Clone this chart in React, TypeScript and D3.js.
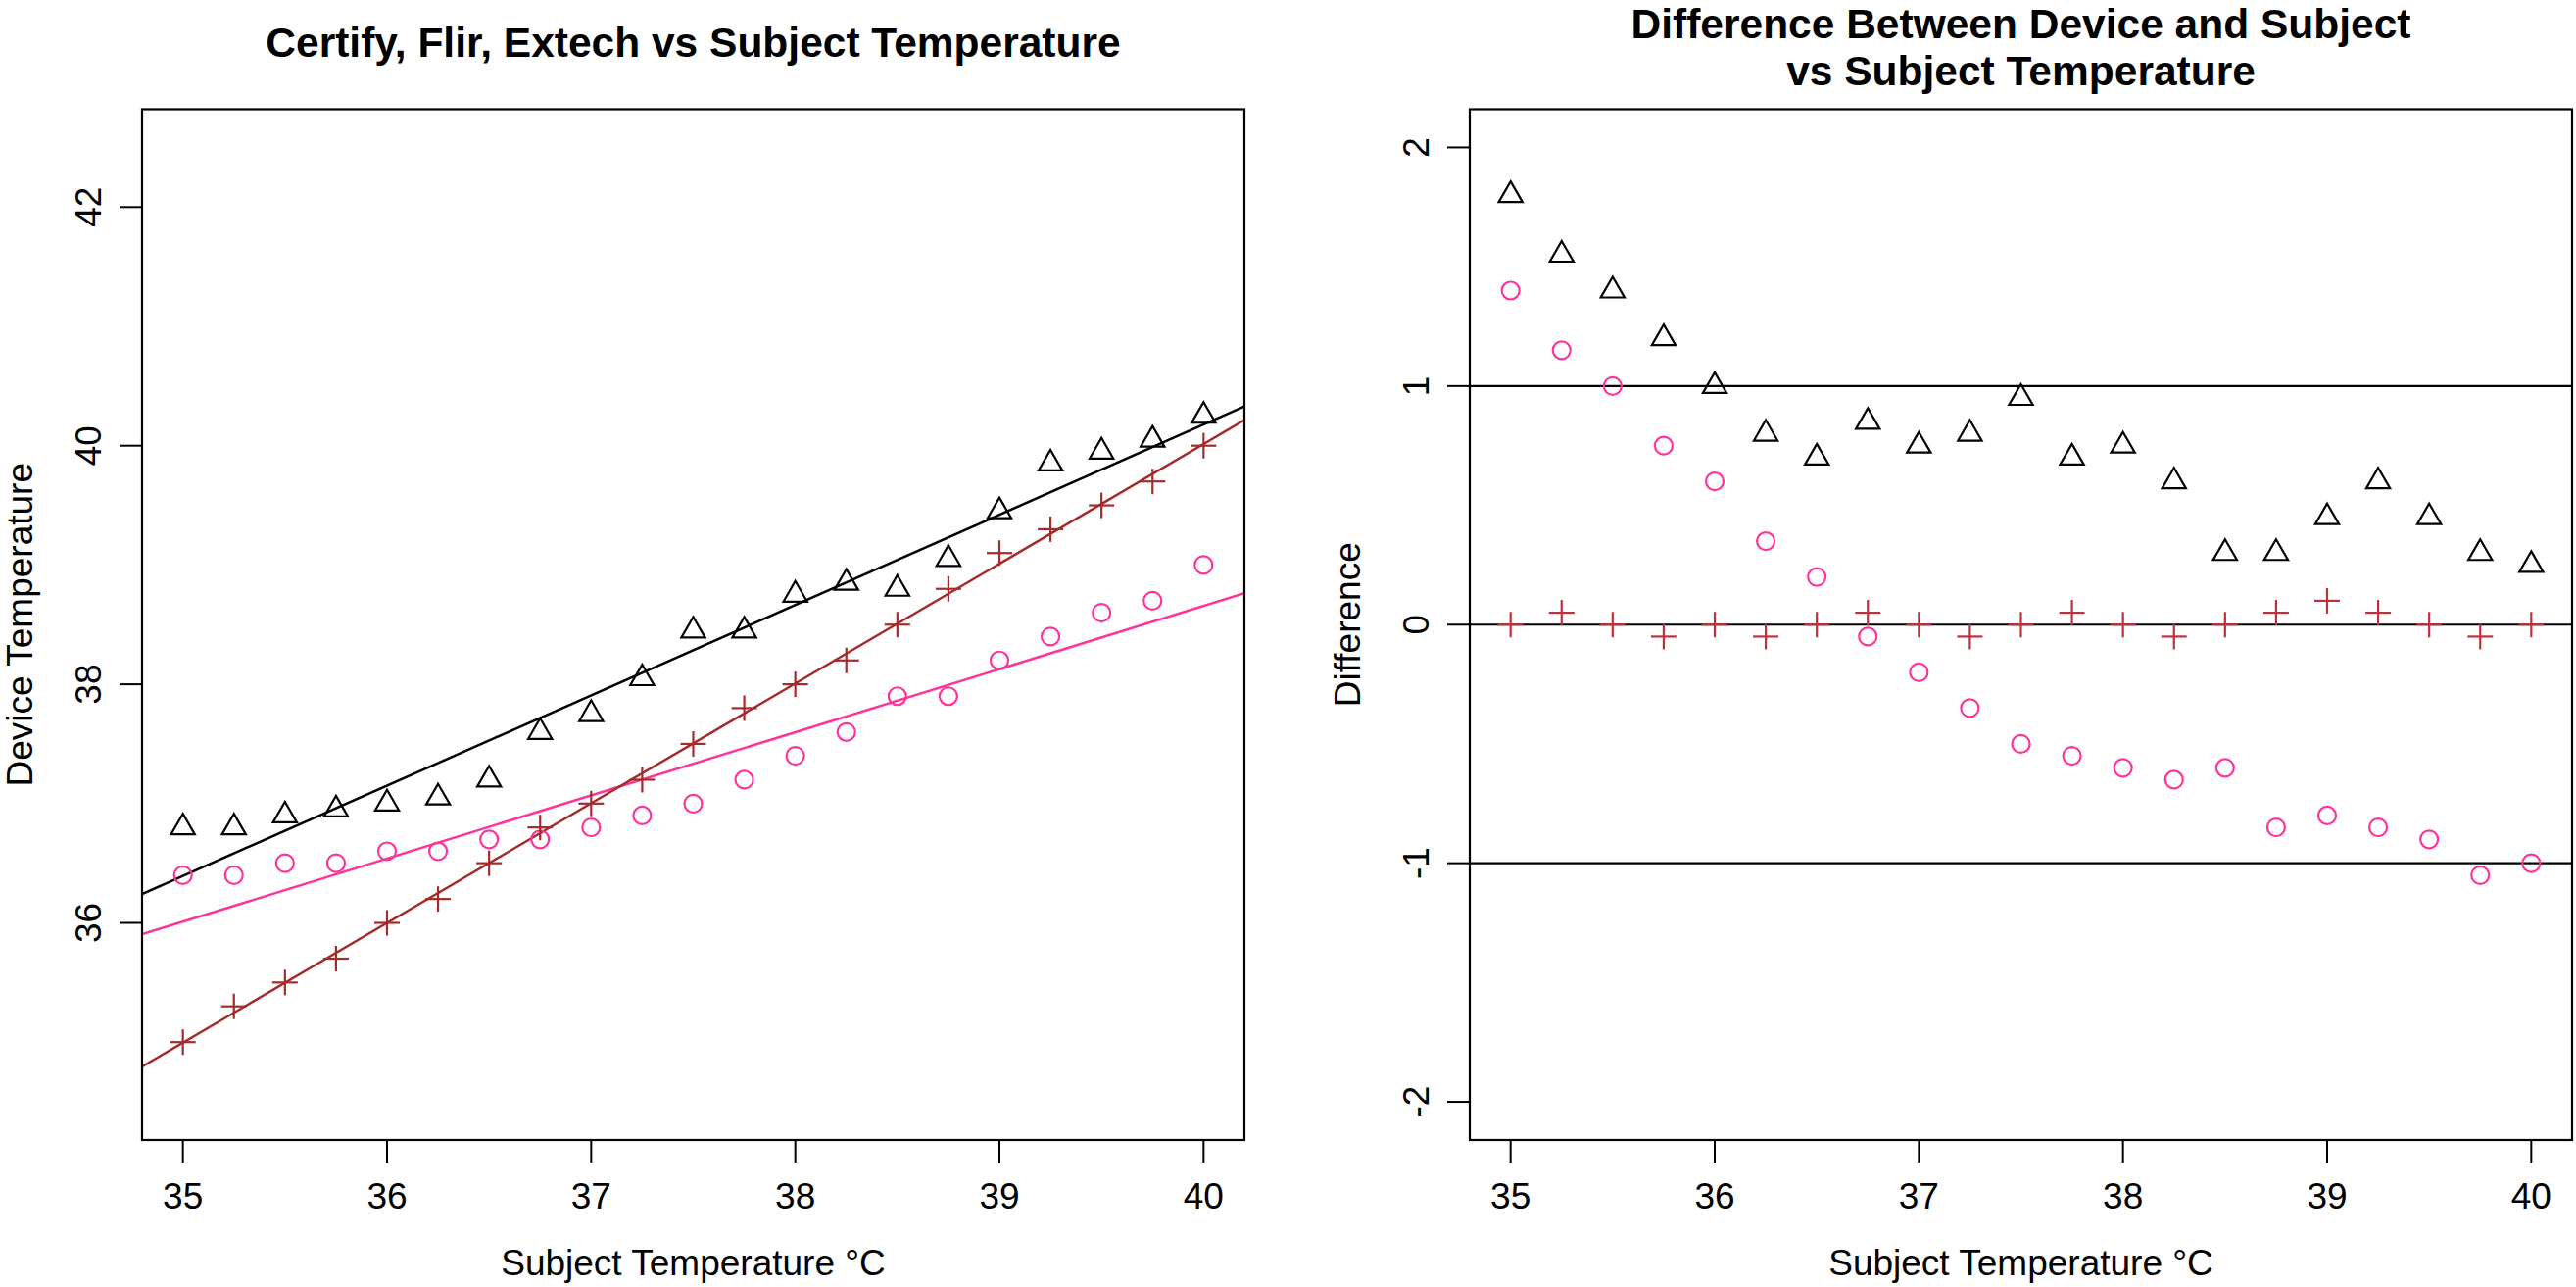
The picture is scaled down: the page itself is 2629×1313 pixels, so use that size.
import React from 'react';
import * as d3 from 'd3';

// ---- data ----
const subjectTemp = [35, 35.25, 35.5, 35.75, 36, 36.25, 36.5, 36.75, 37, 37.25, 37.5, 37.75, 38, 38.25, 38.5, 38.75, 39, 39.25, 39.5, 39.75, 40];

// device readings (left panel)
const triangleTemp = [36.8, 36.8, 36.9, 36.95, 37.0, 37.05, 37.2, 37.6, 37.75, 38.05, 38.45, 38.45, 38.75, 38.85, 38.8, 39.05, 39.45, 39.85, 39.95, 40.05, 40.25];
const circleTemp = [36.4, 36.4, 36.5, 36.5, 36.6, 36.6, 36.7, 36.7, 36.8, 36.9, 37.0, 37.2, 37.4, 37.6, 37.9, 37.9, 38.2, 38.4, 38.6, 38.7, 39.0];
const plusTemp = [35.0, 35.3, 35.5, 35.7, 36.0, 36.2, 36.5, 36.8, 37.0, 37.2, 37.5, 37.8, 38.0, 38.2, 38.5, 38.8, 39.1, 39.3, 39.5, 39.7, 40.0];

// differences device - subject (right panel)
const triangleDiff = [1.8, 1.55, 1.4, 1.2, 1.0, 0.8, 0.7, 0.85, 0.75, 0.8, 0.95, 0.7, 0.75, 0.6, 0.3, 0.3, 0.45, 0.6, 0.45, 0.3, 0.25];
const circleDiff = [1.4, 1.15, 1.0, 0.75, 0.6, 0.35, 0.2, -0.05, -0.2, -0.35, -0.5, -0.55, -0.6, -0.65, -0.6, -0.85, -0.8, -0.85, -0.9, -1.05, -1.0];
const plusDiff = [0, 0.05, 0, -0.05, 0, -0.05, 0, 0.05, 0, -0.05, 0, 0.05, 0, -0.05, 0, 0.05, 0.1, 0.05, 0, -0.05, 0];

const xTicks = [35, 36, 37, 38, 39, 40];
const leftYTicks = [36, 38, 40, 42];
const rightYTicks = [-2, -1, 0, 1, 2];
const refLines = [-1, 0, 1];

const leftTitle = 'Certify, Flir, Extech vs Subject Temperature';
const rightTitle = ['Difference Between Device and Subject', 'vs Subject Temperature'];
const xLabel = 'Subject Temperature °C';
const leftYLabel = 'Device Temperature';
const rightYLabel = 'Difference';

// ---- styles ----
const W = 2629;
const H = 1313;
const FONT = '"Liberation Sans", Arial, Helvetica, sans-serif';
const BLACK = '#000000';
const PINK = '#ff3399';
const BROWN = '#a52a2a';
const RED = '#c0303c';

const TOP = 111.5;
const BOTTOM = 1163;
const LEFT_PANEL = { x0: 145, x1: 1270 };
const RIGHT_PANEL = { x0: 1500, x1: 2625 };

function fit(x: number[], y: number[]) {
  const mx = d3.mean(x) as number;
  const my = d3.mean(y) as number;
  let sxy = 0;
  let sxx = 0;
  x.forEach((xi, i) => {
    sxy += (xi - mx) * (y[i] - my);
    sxx += (xi - mx) * (xi - mx);
  });
  const b = sxy / sxx;
  return { a: my - b * mx, b };
}

type Scale = d3.ScaleLinear<number, number>;

function Triangle({ cx, cy, color }: { cx: number; cy: number; color: string }) {
  const r = 14;
  const hx = (r * Math.sqrt(3)) / 2;
  const p = d3.path();
  p.moveTo(cx, cy - r);
  p.lineTo(cx + hx, cy + r / 2);
  p.lineTo(cx - hx, cy + r / 2);
  p.closePath();
  return <path d={p.toString()} fill="none" stroke={color} strokeWidth={2.2} strokeLinejoin="miter" />;
}

function Plus({ cx, cy, color }: { cx: number; cy: number; color: string }) {
  const a = 13;
  return (
    <g stroke={color} strokeWidth={2.2}>
      <line x1={cx - a} x2={cx + a} y1={cy} y2={cy} />
      <line x1={cx} x2={cx} y1={cy - a} y2={cy + a} />
    </g>
  );
}

function Axes({ x, y, yTicks, x0, x1, title, yLabel }: { x: Scale; y: Scale; yTicks: number[]; x0: number; x1: number; title: string[]; yLabel: string }) {
  const cx = (x0 + x1) / 2;
  const cy = (TOP + BOTTOM) / 2;
  return (
    <g fontFamily={FONT} fill={BLACK}>
      <rect x={x0} y={TOP} width={x1 - x0} height={BOTTOM - TOP} fill="none" stroke={BLACK} strokeWidth={2.2} />
      {xTicks.map((t) => (
        <g key={'x' + t}>
          <line x1={x(t)} x2={x(t)} y1={BOTTOM} y2={BOTTOM + 23} stroke={BLACK} strokeWidth={2} />
          <text x={x(t)} y={1233} fontSize={37} textAnchor="middle">{t}</text>
        </g>
      ))}
      {yTicks.map((t) => (
        <g key={'y' + t}>
          <line x1={x0 - 23} x2={x0} y1={y(t)} y2={y(t)} stroke={BLACK} strokeWidth={2} />
          <text transform={`translate(${x0 - 42},${y(t)}) rotate(-90)`} fontSize={37} textAnchor="middle">{t}</text>
        </g>
      ))}
      <text x={cx} y={1301} fontSize={37} textAnchor="middle">{xLabel}</text>
      <text transform={`translate(${x0 - 112},${cy}) rotate(-90)`} fontSize={37} textAnchor="middle">{yLabel}</text>
      {title.length === 1 ? (
        <text x={cx} y={58} fontSize={42.5} fontWeight="bold" textAnchor="middle">{title[0]}</text>
      ) : (
        title.map((t, i) => (
          <text key={t} x={cx} y={39 + i * 48} fontSize={42.5} fontWeight="bold" textAnchor="middle">{t}</text>
        ))
      )}
    </g>
  );
}

export default function App() {
  const xL = d3.scaleLinear().domain([34.8, 40.2]).range([LEFT_PANEL.x0, LEFT_PANEL.x1]);
  const yL = d3.scaleLinear().domain([34.18, 42.82]).range([BOTTOM, TOP]);
  const xR = d3.scaleLinear().domain([34.8, 40.2]).range([RIGHT_PANEL.x0, RIGHT_PANEL.x1]);
  const yR = d3.scaleLinear().domain([-2.16, 2.16]).range([BOTTOM, TOP]);

  const fits = [
    { f: fit(subjectTemp, triangleTemp), color: BLACK },
    { f: fit(subjectTemp, circleTemp), color: PINK },
    { f: fit(subjectTemp, plusTemp), color: BROWN },
  ];
  const [dx0, dx1] = xL.domain();

  return (
    <div style={{ position: 'absolute', left: 0, top: 0, background: '#fff' }}>
      <svg width={W} height={H} viewBox={`0 0 ${W} ${H}`} style={{ display: 'block', background: '#fff' }}>
        <defs>
          <clipPath id="clipL">
            <rect x={LEFT_PANEL.x0} y={TOP} width={LEFT_PANEL.x1 - LEFT_PANEL.x0} height={BOTTOM - TOP} />
          </clipPath>
          <clipPath id="clipR">
            <rect x={RIGHT_PANEL.x0} y={TOP} width={RIGHT_PANEL.x1 - RIGHT_PANEL.x0} height={BOTTOM - TOP} />
          </clipPath>
        </defs>

        {/* Left panel */}
        <g clipPath="url(#clipL)">
          {fits.map(({ f, color }, i) => (
            <line key={i} x1={xL(dx0)} y1={yL(f.a + f.b * dx0)} x2={xL(dx1)} y2={yL(f.a + f.b * dx1)} stroke={color} strokeWidth={2.5} />
          ))}
          {subjectTemp.map((s, i) => (
            <Triangle key={'t' + i} cx={xL(s)} cy={yL(triangleTemp[i])} color={BLACK} />
          ))}
          {subjectTemp.map((s, i) => (
            <circle key={'c' + i} cx={xL(s)} cy={yL(circleTemp[i])} r={9} fill="none" stroke={PINK} strokeWidth={2.2} />
          ))}
          {subjectTemp.map((s, i) => (
            <Plus key={'p' + i} cx={xL(s)} cy={yL(plusTemp[i])} color={BROWN} />
          ))}
        </g>
        <Axes x={xL} y={yL} yTicks={leftYTicks} x0={LEFT_PANEL.x0} x1={LEFT_PANEL.x1} title={[leftTitle]} yLabel={leftYLabel} />

        {/* Right panel */}
        <g clipPath="url(#clipR)">
          {refLines.map((v) => (
            <line key={v} x1={RIGHT_PANEL.x0} x2={RIGHT_PANEL.x1} y1={yR(v)} y2={yR(v)} stroke={BLACK} strokeWidth={2.2} />
          ))}
          {subjectTemp.map((s, i) => (
            <Triangle key={'t' + i} cx={xR(s)} cy={yR(triangleDiff[i])} color={BLACK} />
          ))}
          {subjectTemp.map((s, i) => (
            <circle key={'c' + i} cx={xR(s)} cy={yR(circleDiff[i])} r={9} fill="none" stroke={PINK} strokeWidth={2.2} />
          ))}
          {subjectTemp.map((s, i) => (
            <Plus key={'p' + i} cx={xR(s)} cy={yR(plusDiff[i])} color={RED} />
          ))}
        </g>
        <Axes x={xR} y={yR} yTicks={rightYTicks} x0={RIGHT_PANEL.x0} x1={RIGHT_PANEL.x1} title={rightTitle} yLabel={rightYLabel} />
      </svg>
    </div>
  );
}
